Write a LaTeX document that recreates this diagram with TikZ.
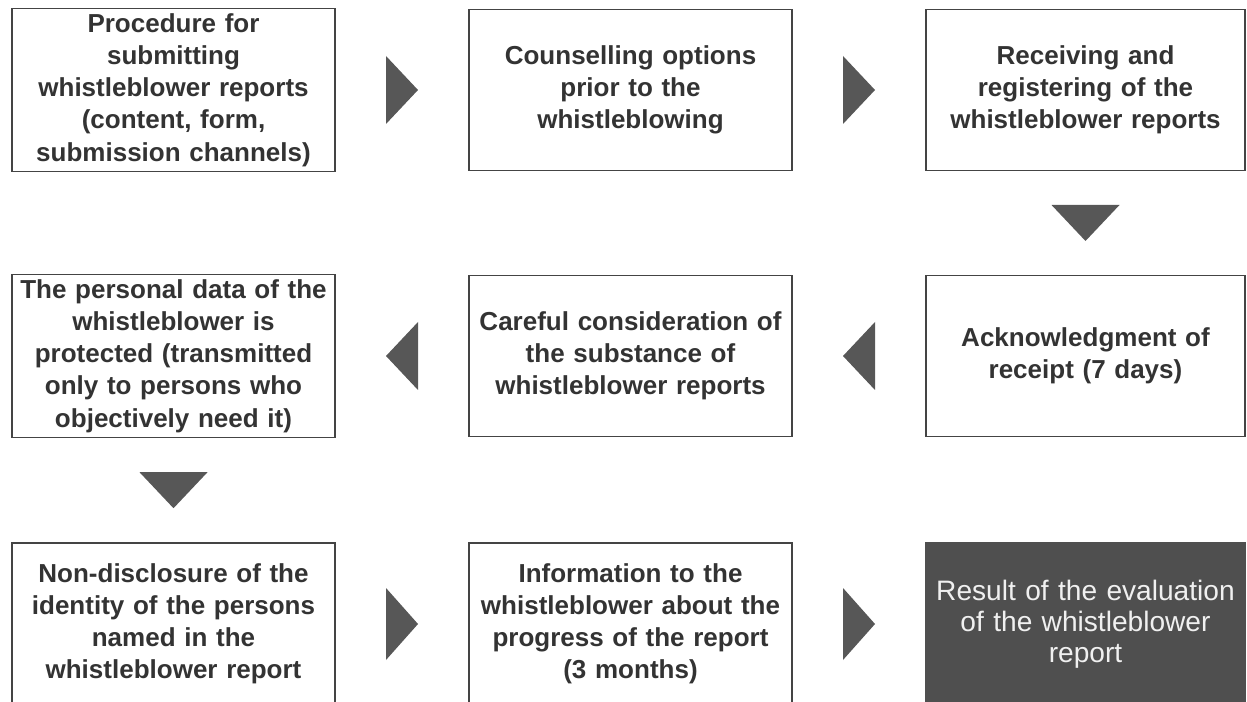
\documentclass[tikz,border=0pt]{standalone}
\usepackage{fontspec}
\setmainfont{Liberation Sans}
\usetikzlibrary{calc}
\definecolor{boxline}{HTML}{444444}
\definecolor{boxtext}{HTML}{333333}
\definecolor{trigray}{HTML}{575757}
\definecolor{darkfill}{HTML}{4F4F4F}

\begin{document}
\begin{tikzpicture}[
        box/.style={draw=boxline, line width=0.9pt, fill=white, text=boxtext, align=center,
            text width=6.26cm, inner sep=0.1cm, minimum height=3.22cm,
            font=\fontsize{14.8}{18.3}\selectfont\bfseries},
        lastbox/.style={box, text width=6.18cm},
        tri/.style={fill=trigray}
    ]
        \useasboundingbox (0,0) rectangle (24.94,-14.04);
        % row 1
        \node[box](proc) at (3.47,-1.80) {Procedure for\\submitting\\whistleblower reports\\(content, form,\\submission channels)};
        \node[box](couns) at (12.61,-1.80) {Counselling options\\prior to the\\whistleblowing};
        \node[lastbox](recv) at (21.71,-1.80) {Receiving and\\registering of the\\whistleblower reports};
        % row 2
        \node[box](privacy) at (3.47,-7.12) {The personal data of the\\whistleblower is\\protected (transmitted\\only to persons who\\objectively need it)};
        \node[box](consid) at (12.61,-7.12) {Careful consideration of\\the substance of\\whistleblower reports};
        \node[lastbox](ackn) at (21.71,-7.12) {Acknowledgment of\\receipt (7 days)};
        % row 3
        \node[box, minimum height=3.24cm](nondisc) at (3.47,-12.48) {Non-disclosure of the\\identity of the persons\\named in the\\whistleblower report};
        \node[box, minimum height=3.24cm](inform) at (12.61,-12.48) {Information to the\\whistleblower about the\\progress of the report\\(3 months)};
        \node[lastbox, minimum height=3.24cm, fill=darkfill, draw=darkfill, text=white!94!black,
            font=\fontsize{16}{17.5}\selectfont](result) at (21.71,-12.48) {Result of the evaluation\\of the whistleblower\\report};
        % arrows
        \coordinate(r1) at ($(proc.east)!0.5!(couns.west)$);
        \coordinate(r2) at ($(couns.east)!0.5!(recv.west)$);
        \coordinate(d1) at ($(recv.south)!0.5!(ackn.north)$);
        \coordinate(l1) at ($(ackn.west)!0.5!(consid.east)$);
        \coordinate(l2) at ($(consid.west)!0.5!(privacy.east)$);
        \coordinate(d2) at ($(privacy.south)!0.5!(nondisc.north)$);
        \coordinate(r3) at ($(nondisc.east)!0.5!(inform.west)$);
        \coordinate(r4) at ($(inform.east)!0.5!(result.west)$);
        \fill[tri] (r1) ++(-0.32,0.68) -- ++(0.64,-0.68) -- ++(-0.64,-0.68) -- cycle;
        \fill[tri] (r2) ++(-0.32,0.68) -- ++(0.64,-0.68) -- ++(-0.64,-0.68) -- cycle;
        \fill[tri] (d1) ++(-0.68,0.36) -- ++(1.36,0) -- ++(-0.68,-0.72) -- cycle;
        \fill[tri] (l1) ++(0.32,0.68) -- ++(-0.64,-0.68) -- ++(0.64,-0.68) -- cycle;
        \fill[tri] (l2) ++(0.32,0.68) -- ++(-0.64,-0.68) -- ++(0.64,-0.68) -- cycle;
        \fill[tri] (d2) ++(-0.68,0.36) -- ++(1.36,0) -- ++(-0.68,-0.72) -- cycle;
        \fill[tri] (r3) ++(-0.32,0.72) -- ++(0.64,-0.72) -- ++(-0.64,-0.72) -- cycle;
        \fill[tri] (r4) ++(-0.32,0.72) -- ++(0.64,-0.72) -- ++(-0.64,-0.72) -- cycle;
\end{tikzpicture}
\end{document}
